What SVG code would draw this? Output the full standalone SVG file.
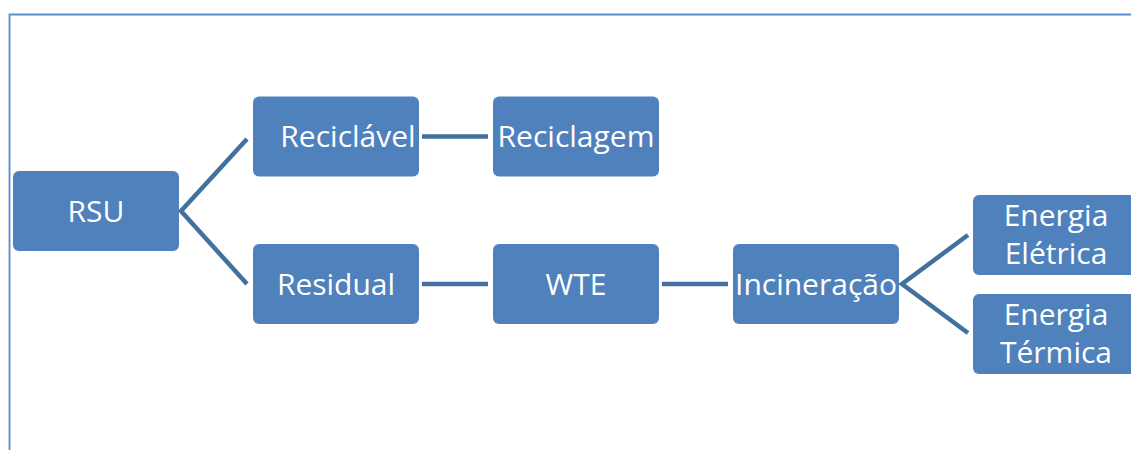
<svg xmlns="http://www.w3.org/2000/svg" width="1131" height="450" viewBox="0 0 1131 450">
  <style>
    .box { fill: #4F81BD; }
    .lbl { fill: #FFFFFF; font-family: "Open Sans", "Liberation Sans", sans-serif; font-size: 30px; text-anchor: middle; }
    .link { fill: none; stroke: #41719C; stroke-width: 4.5; stroke-linejoin: miter; }
    .frame { fill: none; stroke: #5B8CC9; stroke-width: 1.8; }
  </style>
  <rect width="1131" height="450" fill="#FFFFFF"/>
  <!-- outer frame, open on the right and bottom -->
  <path class="frame" d="M9.5,450 V14.5 H1131"/>

  <g id="connectors">
    <polyline class="link" points="247,139 181,211 247,284"/>
    <line class="link" x1="422" y1="136.5" x2="488" y2="136.5"/>
    <line class="link" x1="422" y1="284" x2="488" y2="284"/>
    <line class="link" x1="662" y1="284" x2="728" y2="284"/>
    <polyline class="link" points="968,235 902,284 968,333"/>
  </g>

  <g id="rsu">
    <rect class="box" x="13" y="171" width="166" height="80" rx="6"/>
    <text class="lbl" x="96" y="221.5">RSU</text>
  </g>
  <g id="reciclavel">
    <rect class="box" x="253" y="96.5" width="166" height="80" rx="6"/>
    <text class="lbl" x="348" y="147">Reciclável</text>
  </g>
  <g id="reciclagem">
    <rect class="box" x="493" y="96.5" width="166" height="80" rx="6"/>
    <text class="lbl" x="576" y="147">Reciclagem</text>
  </g>
  <g id="residual">
    <rect class="box" x="253" y="244" width="166" height="80" rx="6"/>
    <text class="lbl" x="336" y="294.5">Residual</text>
  </g>
  <g id="wte">
    <rect class="box" x="493" y="244" width="166" height="80" rx="6"/>
    <text class="lbl" x="576" y="294.5">WTE</text>
  </g>
  <g id="incineracao">
    <rect class="box" x="733" y="244" width="166" height="80" rx="6"/>
    <text class="lbl" x="816" y="294.5">Incineração</text>
  </g>
  <g id="energia-eletrica">
    <rect class="box" x="973" y="195" width="166" height="80" rx="6"/>
    <text class="lbl" x="1056" y="225.5">Energia</text>
    <text class="lbl" x="1056" y="263.5">Elétrica</text>
  </g>
  <g id="energia-termica">
    <rect class="box" x="973" y="294" width="166" height="80" rx="6"/>
    <text class="lbl" x="1056" y="324.5">Energia</text>
    <text class="lbl" x="1056" y="362.5">Térmica</text>
  </g>
</svg>
